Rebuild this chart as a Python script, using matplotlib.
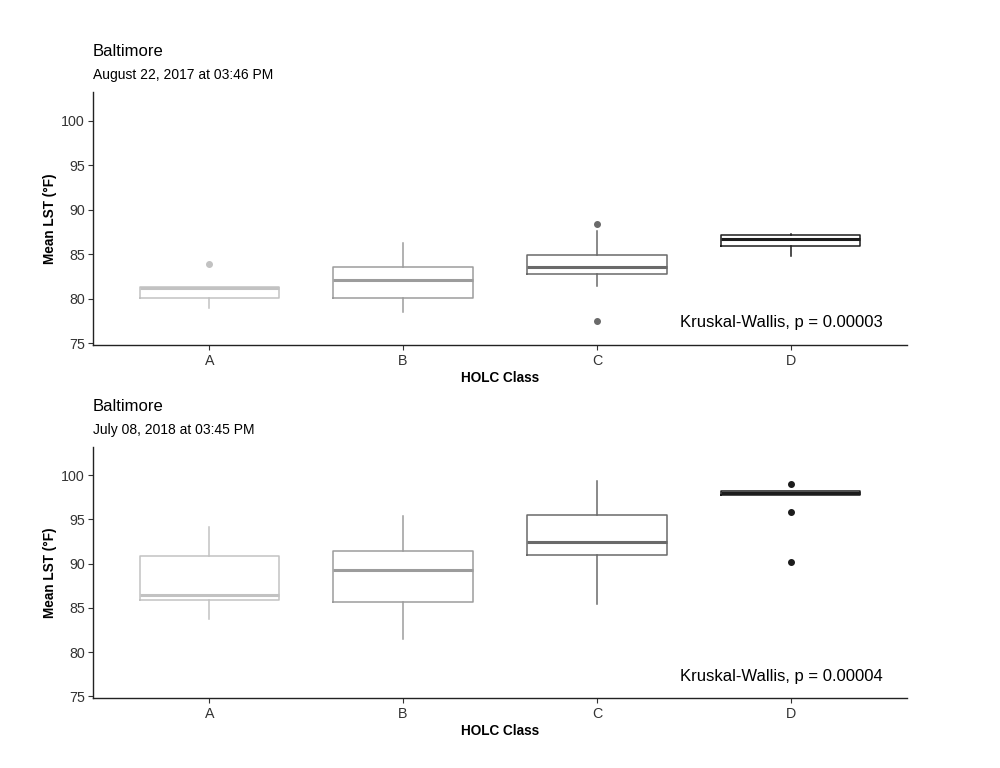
import matplotlib
matplotlib.use("Agg")
import matplotlib.pyplot as plt

plt.rcParams['font.family'] = ['Liberation Sans', 'DejaVu Sans']

classes = ['A', 'B', 'C', 'D']
colors = ['#c2c2c2', '#9c9c9c', '#6a6a6a', '#1c1c1c']

# panel 1: August 22, 2017
aug_q1 = [80.1, 80.1, 82.8, 85.9]
aug_med = [81.2, 82.1, 83.6, 86.7]
aug_q3 = [81.3, 83.6, 84.9, 87.1]
aug_lo = [78.9, 78.5, 81.4, 84.8]
aug_hi = [81.3, 86.2, 87.6, 87.3]
aug_out = [[83.85], [], [88.4, 77.5], []]

# panel 2: July 08, 2018
jul_q1 = [85.9, 85.7, 91.0, 97.8]
jul_med = [86.5, 89.3, 92.5, 98.0]
jul_q3 = [90.9, 91.4, 95.5, 98.2]
jul_lo = [83.7, 81.5, 85.4, 97.8]
jul_hi = [94.2, 95.4, 99.4, 98.2]
jul_out = [[], [], [], [99.0, 95.9, 90.2]]

panels = [
    ('August 22, 2017 at 03:46 PM', aug_q1, aug_med, aug_q3, aug_lo, aug_hi, aug_out,
     'Kruskal-Wallis, p = 0.00003', [0.093, 0.551, 0.814, 0.329]),
    ('July 08, 2018 at 03:45 PM', jul_q1, jul_med, jul_q3, jul_lo, jul_hi, jul_out,
     'Kruskal-Wallis, p = 0.00004', [0.093, 0.091, 0.814, 0.327]),
]

fig = plt.figure(figsize=(10, 7.68), dpi=100)

for sub, q1, med, q3, lo, hi, out, kw, rect in panels:
    ax = fig.add_axes(rect)
    for i in range(4):
        st = [dict(q1=q1[i], med=med[i], q3=q3[i], whislo=lo[i], whishi=hi[i], fliers=out[i])]
        c = colors[i]
        ax.bxp(st, positions=[i + 1], widths=0.72, showcaps=False,
               boxprops=dict(color=c, linewidth=1.1),
               whiskerprops=dict(color=c, linewidth=1.1),
               medianprops=dict(color=c, linewidth=2.2),
               flierprops=dict(marker='o', markerfacecolor=c, markeredgecolor=c, markersize=4))
    ax.set_xlim(0.4, 4.6)
    ax.set_ylim(74.8, 103.2)
    ax.set_yticks([75, 80, 85, 90, 95, 100])
    ax.set_xticks([1, 2, 3, 4])
    ax.set_xticklabels(classes)
    ax.spines['top'].set_visible(False)
    ax.spines['right'].set_visible(False)
    for s in ['left', 'bottom']:
        ax.spines[s].set_linewidth(1.0)
        ax.spines[s].set_color('#222222')
    ax.tick_params(length=3.5, width=0.8, labelsize=10.3, colors='#333333', pad=2.5)
    ax.tick_params(axis='x', pad=3)
    ax.set_ylabel('Mean LST (°F)', fontsize=9.8, fontweight='bold', labelpad=3)
    ax.set_xlabel('HOLC Class', fontsize=9.8, fontweight='bold', labelpad=2)
    ax.text(0.97, 0.087, kw, transform=ax.transAxes, ha='right', va='center', fontsize=12)
    ax.text(0.0, 1.13, 'Baltimore', transform=ax.transAxes, ha='left', va='bottom', fontsize=12)
    ax.text(0.0, 1.04, sub, transform=ax.transAxes, ha='left', va='bottom', fontsize=10)

fig.savefig('out.png', dpi=100)
